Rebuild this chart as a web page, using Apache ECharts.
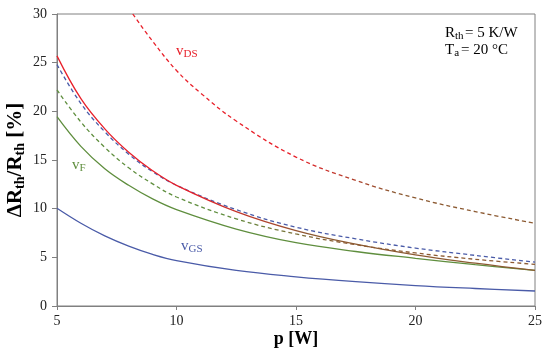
<!DOCTYPE html>
<html>
<head>
<meta charset="utf-8">
<script src="https://cdn.jsdelivr.net/npm/echarts@6/dist/echarts.min.js"></script>
<style>html,body{margin:0;padding:0;background:#fff}#c{width:550px;height:361px}</style>
</head>
<body>
<div id="c"></div>
<script>
// ---- data ----
const pVals = [5, 6, 7, 8, 9, 10, 12.5, 15, 17.5, 20, 22.5, 25];
const vdsSolid = [25.7, 21.3, 18.2, 15.8, 13.9, 12.4, 9.7, 7.75, 6.35, 5.25, 4.4, 3.65];
const vgsDashed = [24.8, 20.8, 17.9, 15.6, 13.8, 12.4, 9.9, 8.1, 6.9, 5.95, 5.2, 4.5];
const vfDashed = [22.2, 18.9, 16.3, 14.2, 12.55, 11.2, 8.95, 7.4, 6.3, 5.45, 4.8, 4.28];
const vfSolid = [19.45, 16.4, 14.1, 12.4, 11.0, 9.9, 7.9, 6.5, 5.6, 4.9, 4.25, 3.65];
const vgsSolid = [10.04, 8.5, 7.2, 6.15, 5.3, 4.66, 3.65, 3.0, 2.5, 2.1, 1.8, 1.54];
const pDS = [8.17, 9, 10, 11, 12.5, 15, 17.5, 20, 22.5, 25];
const vdsDashed = [30, 27.2, 24.2, 21.9, 19.0, 15.3, 12.9, 11.1, 9.7, 8.5];
const xTicks = [5, 10, 15, 20, 25];
const yTicks = [0, 5, 10, 15, 20, 25, 30];

const RED = '#E8202A', BLUE = '#4A5BA8', GREEN = '#5F8E3E', BROWN = '#8C5A32';
const SERIF = 'Liberation Serif';
const pair = (xs, ys) => xs.map((x, i) => [x, ys[i]]);
const grad = (c1, c2, s) => new echarts.graphic.LinearGradient(0, 0, 1, 0, [
  {offset: 0, color: c1}, {offset: s, color: c1}, {offset: Math.min(1, s + 0.25), color: c2}, {offset: 1, color: c2}]);

function line(name, data, color, dashed) {
  return {
    name, type: 'line', data, smooth: 0.4, symbol: 'none', clip: true,
    lineStyle: {color, width: 1.3, type: dashed ? [4, 3] : 'solid'}
  };
}

const chart = echarts.init(document.getElementById('c'), null, {renderer: 'canvas'});
const subRich = (size, subSize, pad, color, bold) => ({
  m: {fontFamily: SERIF, fontSize: size, color, fill: color, fontWeight: bold ? 'bold' : 'normal'},
  s: {fontFamily: SERIF, fontSize: subSize, color, fill: color, fontWeight: bold ? 'bold' : 'normal', padding: [pad, 0, 0, 0]}
});
function label(x, y, main, sub, color, size) {
  return {
    type: 'text', x, y, silent: true,
    style: {
      text: '{m|' + main + '}{s|' + sub + '}', x: 0, y: 0, fill: color,
      rich: subRich(size, Math.round(size * 0.72), 6, color, false),
      align: 'left', verticalAlign: 'middle', textAlign: 'left', textVerticalAlign: 'middle'
    }
  };
}
const plain = (x, y, text) => ({type: 'text', x, y, silent: true,
  style: {text, fontFamily: SERIF, fontSize: 15, fill: '#000', align: 'left', verticalAlign: 'middle', textAlign: 'left', textVerticalAlign: 'middle'}});

chart.setOption({
  animation: false,
  backgroundColor: '#fff',
  grid: {left: 57, right: 15, top: 14, bottom: 55, containLabel: false, outerBoundsMode: 'none',
    show: true, borderColor: '#808080', borderWidth: 1},
  xAxis: {
    type: 'value', min: 5, max: 25, interval: 5,
    name: 'p [W]', nameLocation: 'middle', nameGap: 24, nameMoveOverlap: false,
    nameTextStyle: {fontFamily: SERIF, fontSize: 18, fontWeight: 'bold', color: '#000'},
    axisLine: {lineStyle: {color: '#808080', width: 1}},
    axisTick: {show: true, inside: false, length: 4, lineStyle: {color: '#808080'}},
    axisLabel: {fontFamily: SERIF, fontSize: 14, color: '#222', margin: 8,
      formatter: v => xTicks.includes(v) ? String(v) : ''},
    splitLine: {show: false}
  },
  yAxis: {
    type: 'value', min: 0, max: 30, interval: 5,
    name: '{m|ΔR}{s|th}{m|/R}{s|th}{m| [%]}', nameLocation: 'middle', nameGap: 30, nameRotate: 90,
    nameMoveOverlap: false,
    nameTextStyle: {rich: subRich(21, 14, 9, '#000', true)},
    axisLine: {show: true, lineStyle: {color: '#808080', width: 1}},
    axisTick: {show: true, inside: false, length: 5, lineStyle: {color: '#808080'}},
    axisLabel: {fontFamily: SERIF, fontSize: 14, color: '#222', margin: 10,
      formatter: v => yTicks.includes(v) ? String(v) : ''},
    splitLine: {show: false}
  },
  series: [
    line('vDS dashed', pair(pDS, vdsDashed), grad(RED, BROWN, 0.4), true),
    line('vGS dashed', pair(pVals, vgsDashed), BLUE, true),
    line('vF dashed', pair(pVals, vfDashed), grad(GREEN, BROWN, 0.35), true),
    line('vF solid', pair(pVals, vfSolid), GREEN, false),
    line('vGS solid', pair(pVals, vgsSolid), BLUE, false),
    line('vDS solid', pair(pVals, vdsSolid), grad(RED, BROWN, 0.28), false)
  ],
  graphic: [
    label(176, 51, 'v', 'DS', RED, 15),
    label(72, 165, 'v', 'F', GREEN, 15),
    label(181, 246, 'v', 'GS', BLUE, 15),
    label(445, 33.5, 'R', 'th', '#000', 15),
    plain(465, 33.5, '= 5 K/W'),
    label(445, 50.5, 'T', 'a', '#000', 15),
    plain(461, 50.5, '= 20 °C')
  ]
});
</script>
</body>
</html>
